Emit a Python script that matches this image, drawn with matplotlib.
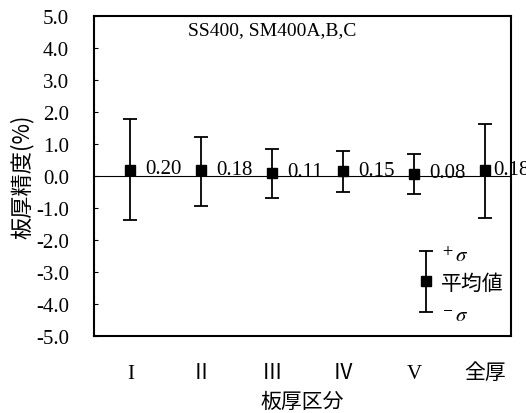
import numpy as np
import matplotlib
matplotlib.use('Agg')
from matplotlib import pyplot as plt

plt.rcParams['font.family'] = ['Liberation Serif', 'Noto Sans CJK JP']
plt.rcParams['mathtext.fontset'] = 'stix'

# data
categories = ['I', 'II', 'III', 'IV', 'V', '全厚']
cat_labels = ['I', 'Ⅱ', 'Ⅲ', 'Ⅳ', 'V', '全厚']
means = [0.20, 0.18, 0.11, 0.15, 0.08, 0.18]
upper = [1.80, 1.24, 0.86, 0.80, 0.69, 1.62]   # mean + sigma
lower = [-1.38, -0.93, -0.68, -0.51, -0.55, -1.32]  # mean - sigma

x = np.arange(1, len(categories) + 1)
m = np.array(means)
yerr = [m - np.array(lower), np.array(upper) - m]

fig = plt.figure(figsize=(5.26, 4.14), dpi=100)
ax = fig.add_axes([0.179, 0.186, 0.792, 0.772])

ax.axhline(0, color='black', lw=0.8)
ax.errorbar(x, m, yerr=yerr, fmt='s', color='black', ms=7.5, capsize=5,
            elinewidth=1.3, capthick=1.3)
for i, (xi, v) in enumerate(zip(x, means)):
    dx = 6 if i == len(means) - 1 else 11
    ax.annotate('%.2f' % v, (xi, v), xytext=(dx, 1), textcoords='offset points',
                va='center', ha='left', fontsize=15, annotation_clip=False)

# legend drawn as an errorbar sample
lx, lm, lup, llo = 5.17, -3.27, -2.35, -4.24
ax.errorbar([lx], [lm], yerr=[[lm - llo], [lup - lm]], fmt='s', color='black',
            ms=7.5, capsize=5, elinewidth=1.3, capthick=1.3)
ax.text(lx + 0.19, -2.5, r'$^+\sigma$', fontsize=15, va='center', ha='left')
ax.text(lx + 0.2, -3.33, '平均値', fontsize=15, va='center', ha='left',
        family=['Noto Sans CJK JP'])
ax.text(lx + 0.19, -4.4, r'$^-\sigma$', fontsize=15, va='center', ha='left')

ax.text(3.0, 4.6, 'SS400, SM400A,B,C', fontsize=14, ha='center', va='center')

ax.set_xlim(0.49, 6.36)
ax.set_ylim(-5, 5)
ax.set_yticks(np.arange(-5, 6, 1))
ax.set_yticklabels(['%.1f' % v for v in np.arange(-5, 6, 1)], fontsize=15)
ax.tick_params(axis='y', direction='in', length=3, pad=18)
ax.set_xticks(x)
ax.set_xticklabels(cat_labels, fontsize=15)
ax.tick_params(axis='x', length=0, pad=20)
for lab in ax.get_xticklabels():
    lab.set_family(['Liberation Serif', 'Noto Sans CJK JP'])
for s in ax.spines.values():
    s.set_linewidth(1.5)

ax.set_xlabel('板厚区分', fontsize=15, family=['Noto Sans CJK JP'], labelpad=5)
ax.set_ylabel('板厚精度(%)', fontsize=16, family=['Noto Sans CJK JP'], labelpad=2)

fig.savefig('out.png', dpi=100)
